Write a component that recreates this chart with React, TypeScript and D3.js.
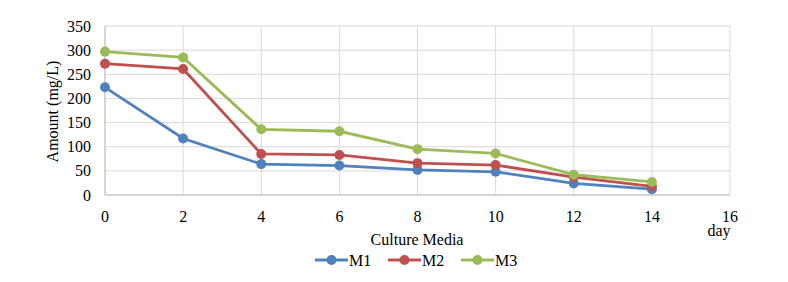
import React from 'react'
import * as d3 from 'd3'

const days = [0, 2, 4, 6, 8, 10, 12, 14]
const m1 = [223, 117, 64, 61, 52, 48, 24, 12]
const m2 = [272, 261, 85, 83, 66, 62, 37, 18]
const m3 = [297, 285, 136, 132, 95, 86, 42, 27]
const seriesNames = ['M1', 'M2', 'M3']
const colors = ['#4F81BD', '#C0504D', '#9BBB59']
const xTicks = [0, 2, 4, 6, 8, 10, 12, 14, 16]
const yTicks = [0, 50, 100, 150, 200, 250, 300, 350]

export default function App() {
  const width = 788
  const height = 282
  const left = 105, right = 730, top = 26, bottom = 195
  const font = "'Liberation Serif', 'DejaVu Serif', serif"

  const x = d3.scaleLinear().domain([0, 16]).range([left, right])
  const y = d3.scaleLinear().domain([0, 350]).range([bottom, top])
  const line = d3.line<number>()
    .x((d, i) => x(days[i]))
    .y(d => y(d))

  const all = [m1, m2, m3]

  return (
    <svg width={width} height={height} style={{ position: 'absolute', left: 0, top: 0, background: '#fff', fontFamily: font }}>
      {yTicks.map(t => (
        <line key={'gy' + t} x1={left} x2={right} y1={y(t)} y2={y(t)} stroke="#d9d9d9" strokeWidth={1} />
      ))}
      {xTicks.map(t => (
        <line key={'gx' + t} x1={x(t)} x2={x(t)} y1={top} y2={bottom} stroke="#d9d9d9" strokeWidth={1} />
      ))}
      <line x1={left} x2={right} y1={bottom} y2={bottom} stroke="#bfbfbf" />
      <line x1={left} x2={left} y1={top} y2={bottom} stroke="#bfbfbf" />
      {yTicks.map(t => (
        <text key={'ty' + t} x={91} y={y(t)} dy="0.35em" textAnchor="end" fontSize={16}>{t}</text>
      ))}
      {xTicks.map(t => (
        <text key={'tx' + t} x={x(t)} y={216} dy="0.35em" textAnchor="middle" fontSize={16}>{t}</text>
      ))}
      <text transform={`translate(52,${(top + bottom) / 2 + 1}) rotate(-90)`} textAnchor="middle" dy="0.35em" fontSize={16}>Amount (mg/L)</text>
      <text x={417} y={239} dy="0.35em" textAnchor="middle" fontSize={16}>Culture Media</text>
      <text x={719} y={230} dy="0.35em" textAnchor="middle" fontSize={16}>day</text>
      {all.map((s, k) => (
        <g key={'s' + k}>
          <path d={line(s) || ''} fill="none" stroke={colors[k]} strokeWidth={2.8} />
          {s.map((v, i) => (
            <circle key={i} cx={x(days[i])} cy={y(v)} r={5} fill={colors[k]} />
          ))}
        </g>
      ))}
      {seriesNames.map((n, k) => {
        const lx = 315 + k * 73
        return (
          <g key={'l' + n}>
            <line x1={lx} x2={lx + 33} y1={260} y2={260} stroke={colors[k]} strokeWidth={2.8} />
            <circle cx={lx + 16.5} cy={260} r={5} fill={colors[k]} />
            <text x={lx + 34} y={260} dy="0.35em" fontSize={16}>{n}</text>
          </g>
        )
      })}
    </svg>
  )
}
